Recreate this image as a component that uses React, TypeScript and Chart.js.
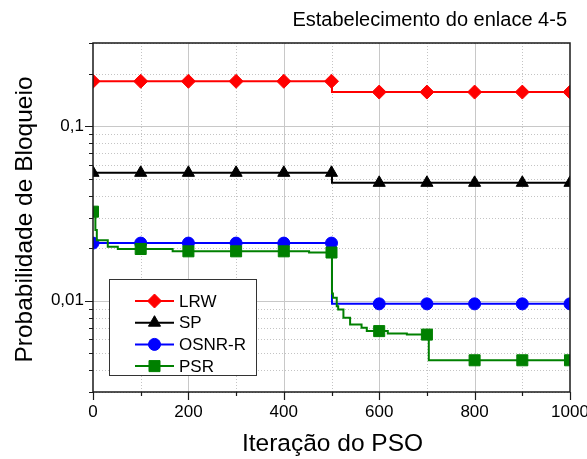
import React, { useEffect, useRef } from "react";
import { Chart, registerables } from "chart.js";

Chart.register(...registerables);

const FONT = "'Liberation Sans', Arial, Helvetica, sans-serif";

const chartTitle = "Estabelecimento do enlace 4-5";
const xAxisTitle = "Iteração do PSO";
const yAxisTitle = "Probabilidade de Bloqueio";

const seriesNames = ["LRW", "SP", "OSNR-R", "PSR"];
const seriesColors = ["#ff0000", "#000000", "#0000ff", "#008000"];
const seriesMarkers = ["rectRot", "triangle", "circle", "rect"];
const markerRadii = [7, 7, 6, 7.8];

const lrwIterations = [0, 100, 200, 300, 400, 500, 501, 600, 700, 800, 900, 1000];
const lrwValues = [0.181, 0.181, 0.181, 0.181, 0.181, 0.181, 0.157, 0.157, 0.157, 0.157, 0.157, 0.157];

const spIterations = [0, 100, 200, 300, 400, 500, 501, 600, 700, 800, 900, 1000];
const spValues = [0.0541, 0.0541, 0.0541, 0.0541, 0.0541, 0.0541, 0.0474, 0.0474, 0.0474, 0.0474, 0.0474, 0.0474];

const osnrIterations = [0, 100, 200, 300, 400, 500, 501, 600, 700, 800, 900, 1000];
const osnrValues = [0.0214, 0.0214, 0.0214, 0.0214, 0.0214, 0.0214, 0.0096, 0.0096, 0.0096, 0.0096, 0.0096, 0.0096];

const psrIterations = [0, 5, 8, 31, 52, 100, 167, 200, 300, 400, 453, 500, 501, 503, 511, 514, 525, 539, 563, 574, 600, 618, 658, 700, 704, 800, 900, 1000];
const psrValues = [0.0324, 0.0254, 0.0222, 0.0204, 0.0198, 0.0198, 0.0192, 0.0192, 0.0192, 0.0192, 0.0189, 0.0189, 0.011, 0.0104, 0.0093, 0.0089, 0.008, 0.0073, 0.007, 0.0067, 0.0067, 0.0065, 0.0064, 0.0064, 0.00456, 0.00456, 0.00456, 0.00456];

const seriesIterations = [lrwIterations, spIterations, osnrIterations, psrIterations];
const seriesValues = [lrwValues, spValues, osnrValues, psrValues];

const xMin = 0;
const xMax = 1000;
const xLabelStep = 200;
const xMarkerStep = 100;
const yMin = 0.003;
const yMax = 0.3;
const yLabelValues = [0.01, 0.1];
const yLabelTexts = ["0,01", "0,1"];

function drawMarker(ctx: CanvasRenderingContext2D, style: string, r: number, x: number, y: number, color: string) {
  ctx.save();
  ctx.fillStyle = color;
  ctx.strokeStyle = color;
  ctx.lineWidth = 1;
  ctx.beginPath();
  if (style === "rectRot") {
    ctx.moveTo(x - r, y);
    ctx.lineTo(x, y - r);
    ctx.lineTo(x + r, y);
    ctx.lineTo(x, y + r);
    ctx.closePath();
  } else if (style === "triangle") {
    for (let k = 0; k < 3; k++) {
      const a = (k * 2 * Math.PI) / 3;
      const px = x + Math.sin(a) * r;
      const py = y - Math.cos(a) * r;
      if (k === 0) ctx.moveTo(px, py);
      else ctx.lineTo(px, py);
    }
    ctx.closePath();
  } else if (style === "circle") {
    ctx.arc(x, y, r, 0, Math.PI * 2);
  } else {
    const s = Math.SQRT1_2 * r;
    ctx.rect(x - s, y - s, 2 * s, 2 * s);
  }
  ctx.fill();
  ctx.stroke();
  ctx.restore();
}

const decorPlugin = {
  id: "decor",
  beforeDatasetsDraw(chart: any) {
    const { ctx, chartArea: a, scales } = chart;
    const xs = scales.x;
    const ys = scales.y;
    ctx.save();
    ctx.lineWidth = 1;
    for (let v = xMin + xMarkerStep; v < xMax; v += xMarkerStep) {
      const px = Math.round(xs.getPixelForValue(v)) + 0.5;
      const major = v % xLabelStep === 0;
      ctx.strokeStyle = major ? "#c8c8c8" : "#c4c4c4";
      ctx.setLineDash(major ? [] : [1, 2]);
      ctx.beginPath();
      ctx.moveTo(px, a.top);
      ctx.lineTo(px, a.bottom);
      ctx.stroke();
    }
    for (let e = -3; e <= -1; e++) {
      for (let m = 1; m <= 9; m++) {
        const v = m * Math.pow(10, e);
        if (v < yMin * 0.999 || v > yMax * 1.001) continue;
        const py = Math.round(ys.getPixelForValue(v)) + 0.5;
        const major = m === 1;
        ctx.strokeStyle = major ? "#c8c8c8" : "#c4c4c4";
        ctx.setLineDash(major ? [] : [1, 2]);
        ctx.beginPath();
        ctx.moveTo(a.left, py);
        ctx.lineTo(a.right, py);
        ctx.stroke();
      }
    }
    ctx.restore();
  },
  afterDatasetsDraw(chart: any) {
    const { ctx, chartArea: a, scales } = chart;
    const xs = scales.x;
    const ys = scales.y;
    ctx.save();
    ctx.strokeStyle = "#1a1a1a";
    ctx.lineWidth = 1.5;
    ctx.setLineDash([]);
    ctx.strokeRect(a.left, a.top, a.right - a.left, a.bottom - a.top);
    ctx.lineWidth = 1.2;
    ctx.beginPath();
    for (let v = xMin; v <= xMax; v += xMarkerStep) {
      const px = Math.round(xs.getPixelForValue(v)) + 0.5;
      const len = v % xLabelStep === 0 ? 8 : 4;
      ctx.moveTo(px, a.bottom);
      ctx.lineTo(px, a.bottom + len);
    }
    for (let e = -3; e <= -1; e++) {
      for (let m = 1; m <= 9; m++) {
        const v = m * Math.pow(10, e);
        if (v < yMin * 0.999 || v > yMax * 1.001) continue;
        const py = Math.round(ys.getPixelForValue(v)) + 0.5;
        const len = m === 1 ? 8 : 4;
        ctx.moveTo(a.left, py);
        ctx.lineTo(a.left - len, py);
      }
    }
    ctx.stroke();

    const bx = 109.5, by = 279.5, bw = 147, bh = 96;
    ctx.fillStyle = "#ffffff";
    ctx.fillRect(bx, by, bw, bh);
    ctx.strokeStyle = "#333333";
    ctx.lineWidth = 1;
    ctx.strokeRect(bx, by, bw, bh);
    ctx.font = `17px ${FONT}`;
    ctx.textBaseline = "middle";
    ctx.textAlign = "left";
    seriesNames.forEach((name, i) => {
      const y = 301 + i * 21.7;
      ctx.strokeStyle = seriesColors[i];
      ctx.lineWidth = 2;
      ctx.beginPath();
      ctx.moveTo(135, y);
      ctx.lineTo(174, y);
      ctx.stroke();
      drawMarker(ctx, seriesMarkers[i], markerRadii[i], 154.5, y, seriesColors[i]);
      ctx.fillStyle = "#000";
      ctx.fillText(name, 179, y + 1);
    });

    ctx.fillStyle = "#000";
    ctx.font = `20px ${FONT}`;
    ctx.textAlign = "right";
    ctx.textBaseline = "alphabetic";
    ctx.fillText(chartTitle, 567, 26);

    ctx.font = `24.5px ${FONT}`;
    ctx.textAlign = "center";
    ctx.fillText(xAxisTitle, (a.left + a.right) / 2 + 1, 451);

    ctx.save();
    ctx.translate(32, (a.top + a.bottom) / 2 + 2);
    ctx.rotate(-Math.PI / 2);
    ctx.fillText(yAxisTitle, 0, 0);
    ctx.restore();

    ctx.restore();
  },
};

export default function App() {
  const canvasRef = useRef<HTMLCanvasElement | null>(null);

  useEffect(() => {
    const canvas = canvasRef.current;
    if (!canvas) return;
    const datasets = seriesNames.map((name, i) => ({
      label: name,
      data: seriesIterations[i].map((x, j) => ({ x, y: seriesValues[i][j] })),
      borderColor: seriesColors[i],
      backgroundColor: seriesColors[i],
      borderWidth: 2,
      stepped: "before" as const,
      fill: false,
      pointStyle: seriesMarkers[i],
      pointRadius: (c: any) => (c.raw && c.raw.x % xMarkerStep === 0 ? markerRadii[i] : 0),
      pointHoverRadius: 0,
      pointBorderWidth: 1,
      pointBorderColor: seriesColors[i],
      pointBackgroundColor: seriesColors[i],
      order: seriesNames.length - i,
    }));

    const chart = new Chart(canvas, {
      type: "line",
      data: { datasets },
      plugins: [decorPlugin],
      options: {
        animation: false,
        responsive: false,
        devicePixelRatio: 1,
        events: [],
        layout: { padding: { left: 0, right: 17, top: 43, bottom: 0 } },
        plugins: {
          legend: { display: false },
          title: { display: false },
          tooltip: { enabled: false },
        },
        scales: {
          x: {
            type: "linear",
            min: xMin,
            max: xMax,
            grid: { display: false, drawTicks: false },
            border: { display: false },
            ticks: {
              stepSize: xLabelStep,
              autoSkip: false,
              maxRotation: 0,
              padding: 10,
              color: "#000",
              font: { size: 17, family: FONT },
              callback: (v: any) => String(v),
            },
            afterFit: (s: any) => {
              s.height = 67;
              s.paddingLeft = 0;
              s.paddingRight = 0;
            },
          },
          y: {
            type: "logarithmic",
            min: yMin,
            max: yMax,
            grid: { display: false, drawTicks: false },
            border: { display: false },
            ticks: {
              autoSkip: false,
              padding: 9,
              color: "#000",
              font: { size: 17, family: FONT },
              callback: (v: any) => {
                const val = Number(v);
                for (let k = 0; k < yLabelValues.length; k++) {
                  if (Math.abs(Math.log10(val) - Math.log10(yLabelValues[k])) < 1e-6) return yLabelTexts[k];
                }
                return "";
              },
            },
            afterFit: (s: any) => {
              s.width = 93;
              s.paddingTop = 0;
              s.paddingBottom = 0;
            },
          },
        },
      } as any,
    });
    return () => chart.destroy();
  }, []);

  return (
    <div style={{ position: "absolute", left: 0, top: 0, width: 587, height: 459, background: "#fff" }}>
      <canvas ref={canvasRef} width={587} height={459} style={{ display: "block", width: 587, height: 459 }} />
    </div>
  );
}
